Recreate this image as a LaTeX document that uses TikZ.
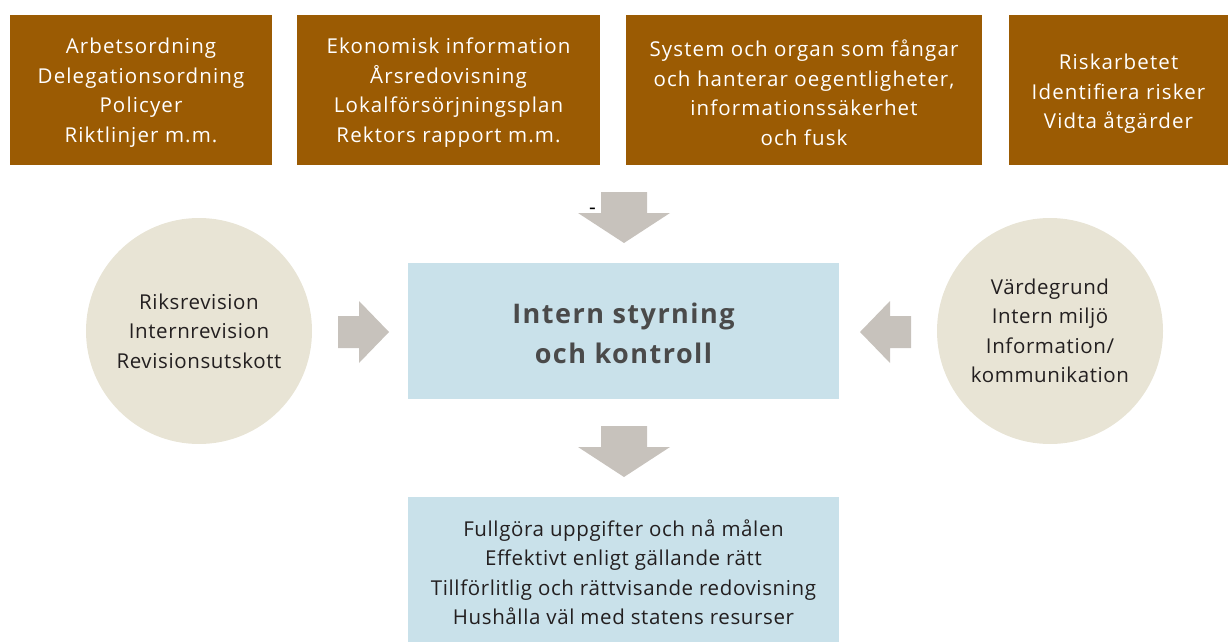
\documentclass[tikz,border=0pt]{standalone}
\usepackage{fontspec}
\setmainfont{Open Sans}[LetterSpace=5.5]
\newfontfamily\darkfont{Open Sans}[LetterSpace=3]
\usepackage{xcolor}
\usetikzlibrary{positioning}
\definecolor{ThemeBrown}{HTML}{9B5B03}
\definecolor{ThemeBlue}{HTML}{C9E1EA}
\definecolor{ThemeSand}{HTML}{E8E4D5}
\definecolor{ThemeArrow}{HTML}{C7C2BC}
\definecolor{ThemeText}{HTML}{231F20}
\definecolor{ThemeTitle}{HTML}{4A4A4A}
\tikzset{every node/.style={inner sep=0pt,align=center,font=\fontsize{20.5}{29.5}\selectfont},
 topbox/.style={fill=ThemeBrown,minimum height=150pt},
 toptext/.style={text=white},
 midbox/.style={fill=ThemeBlue,minimum width=431pt},
 midtext/.style={text=ThemeText,font=\darkfont\fontsize{20.5}{29.5}\selectfont},
 sidecirc/.style={circle,fill=ThemeSand,text=ThemeText,minimum size=226pt,
  font=\darkfont\fontsize{20.5}{29.5}\selectfont},
 blockarrow/.style={fill=ThemeArrow}}
\begin{document}
\begin{tikzpicture}[x=1pt,y=-1pt]
\useasboundingbox (0,0) rectangle (1228,642);
% brown boxes on top
\node[topbox,minimum width=262pt] (ordn) at (141,90) {};
\node[topbox,minimum width=303pt] (ekon) at (448.5,90) {};
\node[topbox,minimum width=356pt] (syst) at (804,90) {};
\node[topbox,minimum width=219pt] (risk) at (1118.5,90) {};
\node[toptext] (ordn-t) at ([yshift=-2.5pt]ordn.center) {Arbetsordning\\Delegationsordning\\Policyer\\Riktlinjer m.m.};
\node[toptext] (ekon-t) at ([yshift=-2.5pt]ekon.center) {Ekonomisk information\\Årsredovisning\\Lokalförsörjningsplan\\Rektors rapport m.m.};
\node[toptext] (syst-t) at ([yshift=-2.5pt]syst.center) {System och organ som fångar\\och hanterar oegentligheter,\\informationssäkerhet\\och fusk};
\node[toptext] (risk-t) at ([yshift=-4pt]risk.center) {Riskarbetet\\Identifiera risker\\Vidta åtgärder};
% blue boxes
\node[midbox,minimum height=136pt] (styr) at (623.5,331) {};
\node[midbox,minimum height=145pt] (mal) at (623.5,569.5) {};
\node[text=ThemeTitle,font=\bfseries\fontsize{27}{40}\selectfont] (styr-t) at ([yshift=-2pt]styr.center) {Intern styrning\\och kontroll};
\node[midtext] (mal-t) at ([yshift=-2.5pt]mal.center) {Fullgöra uppgifter och nå målen\\Effektivt enligt gällande rätt\\Tillförlitlig och rättvisande redovisning\\Hushålla väl med statens resurser};
% circles
\node[sidecirc] (rev) at (199,331) {Riksrevision\\Internrevision\\Revisionsutskott};
\node[sidecirc] (varde) at (1050,331) {Värdegrund\\Intern miljö\\Information/\\kommunikation};
% block arrows
\foreach \y in {192,426}
 \fill[blockarrow] (601,\y)--(647,\y)--(647,\y+21)--(670,\y+21)--(624,\y+51)--(578,\y+21)--(601,\y+21)--cycle;
\foreach \x/\d in {338/1,911/-1}
 \fill[blockarrow] (\x,316)--(\x+21*\d,316)--(\x+21*\d,301)--(\x+51*\d,332)--(\x+21*\d,363)--(\x+21*\d,348)--(\x,348)--cycle;
\node[text=black,font=\fontsize{21}{21}\selectfont] (dash) at (592.5,211) {-};
\end{tikzpicture}
\end{document}
